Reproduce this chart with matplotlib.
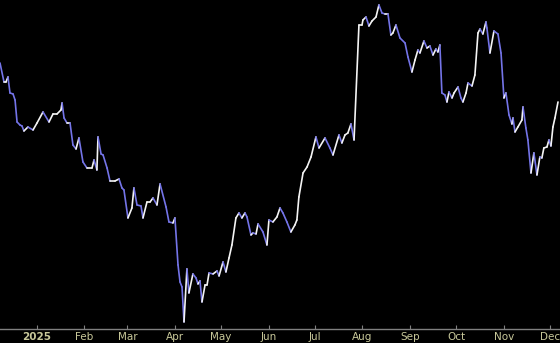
import matplotlib
matplotlib.use('Agg')
import matplotlib.pyplot as plt
import matplotlib.dates as mdates
from matplotlib.collections import LineCollection
import numpy as np
import pandas as pd

# days since 2024-12-08 and the (unitless) price level
start = pd.Timestamp('2024-12-08')
days = [0, 2.6, 3.9, 5.2, 6.5, 8.5, 9.8, 11.1, 13.0, 14.3, 15.6, 18.2, 21.5, 24.1,
        28.0, 31.9, 34.5, 37.1, 39.7, 40.4, 41.7, 43.6, 45.6, 47.5, 49.5, 51.4,
        54.0, 56.6, 59.9, 61.2, 63.1, 63.8, 65.8, 67.1, 69.7, 71.6, 74.9, 77.5,
        79.4, 80.7, 83.3, 85.9, 87.2, 89.2, 91.8, 93.1, 95.7, 97.7, 99.6, 102.2,
        104.2, 108.1, 110.0, 112.6, 113.9, 115.9, 117.2, 118.5, 119.8, 121.7,
        123.0, 125.6, 127.6, 128.9, 130.2, 131.5, 133.5, 134.8, 136.1, 138.7,
        141.3, 142.6, 145.2, 147.1, 149.1, 151.0, 153.6, 155.6, 157.5, 159.5,
        160.8, 163.4, 164.7, 166.7, 168.0, 171.2, 173.8, 175.1, 177.7, 180.3,
        182.3, 184.2, 186.8, 189.4, 192.0, 193.3, 194.6, 197.3, 199.9, 202.5,
        205.7, 207.7, 211.6, 214.8, 216.8, 220.7, 222.6, 224.6, 226.5, 228.5,
        230.5, 233.7, 235.7, 236.3, 238.3, 240.2, 242.2, 244.8, 246.7, 248.7,
        250.6, 252.6, 254.5, 255.8, 257.8, 260.4, 263.7, 265.6, 268.2, 270.2,
        272.1, 273.4, 276.0, 278.0, 279.9, 281.9, 283.8, 285.1, 286.4, 287.7,
        289.7, 291.0, 292.3, 294.3, 295.6, 298.2, 300.1, 301.4, 303.4, 304.7,
        307.3, 309.2, 311.2, 312.5, 314.4, 316.4, 317.0, 319.0, 321.6, 324.2,
        326.2, 328.1, 329.4, 331.4, 333.3, 334.0, 335.3, 337.2, 339.8, 340.5,
        342.4, 343.7, 345.7, 347.6, 349.6, 351.5, 352.8, 354.1, 356.1, 357.4,
        358.7, 360.0, 361.3, 363.3]
price = [266, 247, 247, 252, 236, 235, 229, 207, 204, 203, 198, 202, 199, 206,
         217, 207, 215, 215, 219, 226, 211, 206, 206, 184, 180, 191,
         167, 161, 161, 169, 159, 192, 175, 174, 161, 148, 148, 150,
         141, 139, 111, 121, 141, 124, 123, 111, 127, 127, 131, 124,
         145, 122, 107, 106, 111, 64, 47, 42, 7, 60,
         36, 55, 51, 45, 48, 27, 44, 44, 56, 55,
         58, 53, 67, 57, 71, 84, 111, 116, 111, 116,
         112, 94, 96, 95, 105, 97, 84, 109, 107, 112,
         121, 116, 107, 97, 104, 109, 132, 156, 162, 172,
         192, 181, 191, 181, 174, 194, 186, 194, 196, 205,
         189, 304, 304, 309, 312, 303, 308, 312, 324, 316,
         315, 315, 294, 296, 304, 291, 286, 272, 257, 269,
         279, 276, 288, 281, 283, 274, 280, 277, 284, 236,
         234, 227, 237, 231, 236, 242, 231, 227, 236, 246,
         243, 254, 296, 300, 295, 307, 301, 276, 298, 295,
         276, 231, 236, 214, 205, 211, 197, 202, 209, 222,
         201, 189, 156, 176, 154, 172, 171, 181, 182, 189,
         183, 202, 211, 227]

months = ['2025', 'Feb', 'Mar', 'Apr', 'May', 'Jun', 'Jul', 'Aug', 'Sep', 'Oct', 'Nov', 'Dec']

dates = start + pd.to_timedelta(days, unit='D')
x = mdates.date2num(dates.to_pydatetime())
y = np.array(price, dtype=float)

up_col = '#f4f4f4'
down_col = '#7474e8'

fig = plt.figure(figsize=(5.6, 3.43), dpi=100, facecolor='black')
ax = fig.add_axes([0, 0.041, 1, 0.959])
ax.set_facecolor('black')

pts = np.column_stack([x, y]).reshape(-1, 1, 2)
segs = np.concatenate([pts[:-1], pts[1:]], axis=1)
cols = [up_col if y[i + 1] >= y[i] else down_col for i in range(len(y) - 1)]
lc = LineCollection(segs, colors=cols, linewidths=1.2, capstyle='round', joinstyle='round')
ax.add_collection(lc)

ax.set_xlim(mdates.date2num(start), mdates.date2num(start + pd.Timedelta(days=364.6)))
ax.set_ylim(0, 329)

ticks = pd.date_range('2025-01-01', periods=12, freq='MS')
ax.set_xticks(mdates.date2num(ticks.to_pydatetime()))
ax.set_xticklabels(months, fontsize=7.5, color='#c8c89a')
ax.get_xticklabels()[0].set_fontweight('bold')
ax.tick_params(axis='x', direction='in', length=3, color='#808080', pad=2)
ax.set_yticks([])
for s in ['top', 'left', 'right']:
    ax.spines[s].set_visible(False)
ax.spines['bottom'].set_color('#808080')
ax.spines['bottom'].set_linewidth(1)

fig.savefig('out.png', dpi=100, facecolor='black')
